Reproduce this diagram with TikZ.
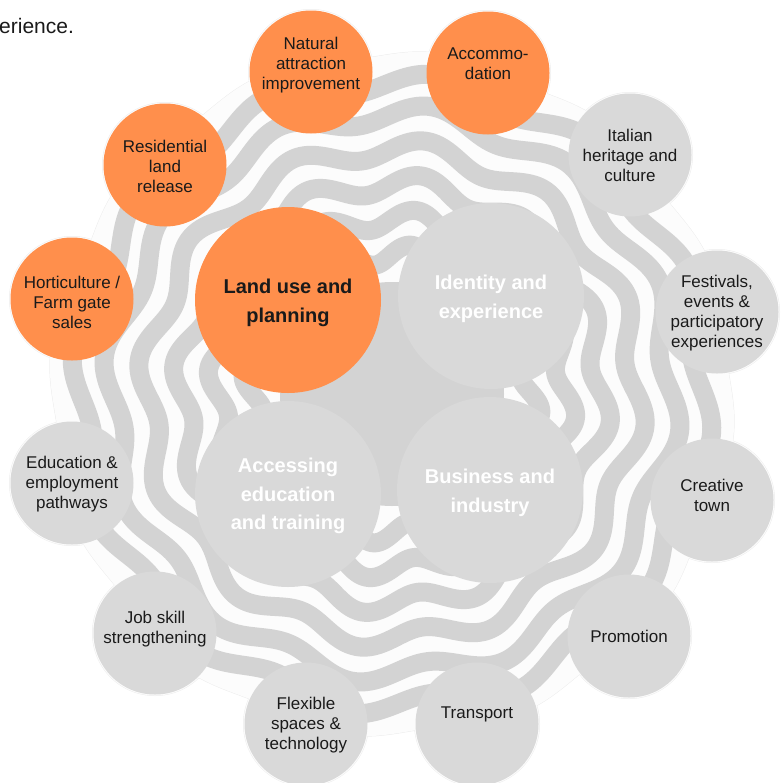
\documentclass[tikz,border=0pt]{standalone}
\usepackage{fontspec}
\setmainfont{Liberation Sans}
\begin{document}
\begin{tikzpicture}[x=1pt,y=-1pt]
\definecolor{orng}{HTML}{FF8F4C}
\definecolor{cgray}{HTML}{D9D9D9}
\definecolor{bgray}{HTML}{D3D3D3}
\definecolor{light}{HTML}{FCFCFC}
\definecolor{edge}{HTML}{EDEDED}
\definecolor{ink}{HTML}{1A1A1A}
\tikzset{
  outer/.style={circle, minimum size=123pt, inner sep=0pt, draw=none},
  grayc/.style={outer, fill=cgray},
  orc/.style={outer, fill=orng},
  big/.style={circle, minimum size=186pt, inner sep=0pt},
  biggray/.style={big, fill=cgray},
  bigorng/.style={big, fill=orng},
  biglbl/.style={align=center, inner sep=0pt, yshift=-3pt,
    font=\fontsize{20}{28.5}\selectfont\bfseries},
  lbl/.style={align=center, font=\fontsize{17}{20}\selectfont, text=ink, inner sep=0pt},
  band/.style={draw=bgray, line width=19pt, line join=round},
}
\useasboundingbox (0,0) rectangle (784,782);
% centres of the outer circles
\coordinate (cNat) at (311,72);
\coordinate (cAcc) at (488,73);
\coordinate (cRes) at (165,165);
\coordinate (cHor) at (72,299);
\coordinate (cIta) at (630,155);
\coordinate (cFes) at (717,312);
\coordinate (cEdu) at (72,483);
\coordinate (cJob) at (155,633);
\coordinate (cFle) at (306,724);
\coordinate (cCre) at (712,500);
\coordinate (cPro) at (629,636);
\coordinate (cTra) at (477,724);
% light background blob with faint edge
\def\blob{plot[domain=0:360, samples=721] ({392+(340+4*sin(12*\x))*cos(\x)}, {394+(340+4*sin(12*\x))*sin(\x)}) -- cycle}
\draw[edge, line width=1pt] \blob;
\foreach \c in {cNat,cAcc,cRes,cHor,cIta,cFes,cEdu,cJob,cFle,cCre,cPro,cTra}
  \draw[edge, line width=1pt] (\c) circle (62.5);
\fill[light] \blob;
\foreach \c in {cNat,cAcc,cRes,cHor,cIta,cFes,cEdu,cJob,cFle,cCre,cPro,cTra}
  \fill[light] (\c) circle (62.5);
% wavy concentric bands
\foreach \R in {140,175,210,245,280,312}
  \draw[band] plot[domain=0:360, samples=721] ({392+(\R+10*sin(12*\x))*cos(\x)}, {394+(\R+10*sin(12*\x))*sin(\x)}) -- cycle;
\fill[bgray] (392,394) circle (112);
% core circles
\node[bigorng, label={[biglbl, text=ink]center:{Land use and\\planning}}] (land) at (288,300) {};
\node[biggray, label={[biglbl, text=white]center:{Identity and\\experience}}] (ident) at (491,296) {};
\node[biggray, label={[biglbl, text=white, yshift=1pt]center:{Accessing\\education\\and training}}] (acc) at (288,494) {};
\node[biggray, label={[biglbl, text=white]center:{Business and\\industry}}] (bus) at (490,490) {};
% outer circles
\node[orc, label={[lbl, yshift=7pt]center:{Natural\\attraction\\improvement}}] (nat) at (cNat) {};
\node[orc, label={[lbl, yshift=9pt]center:{Accommo-\\dation}}] (accom) at (cAcc) {};
\node[orc, label={[lbl, yshift=-1pt]center:{Residential\\land\\release}}] (res) at (cRes) {};
\node[orc, label={[lbl, yshift=-3pt]center:{Horticulture /\\Farm gate\\sales}}] (hort) at (cHor) {};
\node[grayc, label={[lbl]center:{Italian\\heritage and\\culture}}] (ital) at (cIta) {};
\node[grayc, label={[lbl, yshift=-1pt]center:{Festivals,\\events \&\\participatory\\experiences}}] (fest) at (cFes) {};
\node[grayc, label={[lbl, yshift=-1pt]center:{Education \&\\employment\\pathways}}] (edu) at (cEdu) {};
\node[grayc, label={[lbl, yshift=4pt]center:{Job skill\\strengthening}}] (job) at (cJob) {};
\node[grayc, label={[lbl, yshift=-1pt]center:{Flexible\\spaces \&\\technology}}] (flex) at (cFle) {};
\node[grayc, label={[lbl, yshift=5pt]center:{Creative\\town}}] (crea) at (cCre) {};
\node[grayc, label={[lbl]center:{Promotion}}] (prom) at (cPro) {};
\node[grayc, label={[lbl, yshift=10pt]center:{Transport}}] (trans) at (cTra) {};
% fragment of surrounding text
\node[anchor=base west, inner sep=0pt, font=\fontsize{21}{24}\selectfont, text=ink] (frag) at (-1,33) {erience.};
\end{tikzpicture}
\end{document}
